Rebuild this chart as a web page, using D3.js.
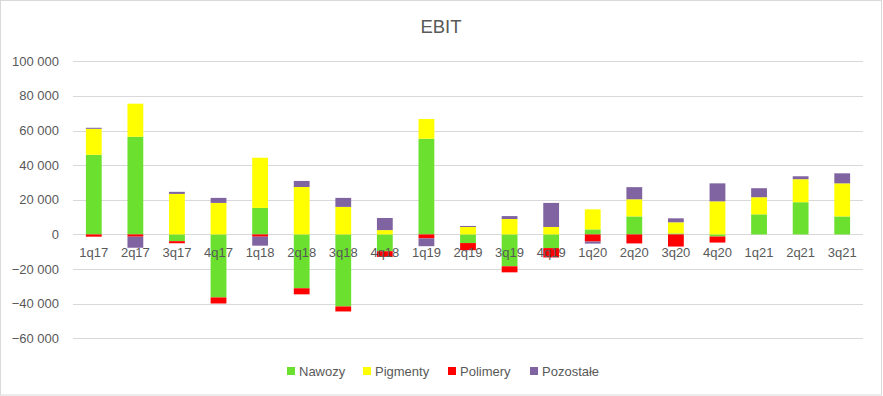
<!DOCTYPE html>
<html>
<head>
<meta charset="utf-8">
<script src="https://cdn.jsdelivr.net/npm/d3@7"></script>
<style>
  body { margin: 0; background: #fff; }
  text { font-family: "Liberation Sans", Arial, sans-serif; fill: #595959; }
</style>
</head>
<body>
<div id="chart"></div>
<script>
// quarters on the x axis
const categories = ['1q17','2q17','3q17','4q17','1q18','2q18','3q18','4q18','1q19','2q19','3q19','4q19','1q20','2q20','3q20','4q20','1q21','2q21','3q21'];
const seriesNames = ['Nawozy','Pigmenty','Polimery','Pozostałe'];
const nawozy    = [46000, 56400, -3900, -36400, 15300, -31100, -41600, -9700, 55300, -5000, -18400, -7900, 2900, 10400, 600, -1200, 11600, 18600, 10400];
const pigmenty  = [15000, 19100, 23400, 18200, 29000, 27400, 15900, 2500, 11400, 4300, 8900, 4300, 11600, 9900, 6400, 19100, 9900, 13300, 19100];
const polimery  = [-1300, -1300, -1200, -3500, -1300, -3500, -2900, -3300, -2300, -4100, -3500, -5400, -4100, -5200, -7000, -3500, 0, 0, 0];
const pozostale = [600, -6400, 1200, 2900, -5200, 3500, 5200, 7000, -4500, 600, 1700, 13900, -1200, 7000, 2300, 10400, 5200, 1700, 5800];
const yTicks = [-60000, -40000, -20000, 0, 20000, 40000, 60000, 80000, 100000];
const colors = ['#6be02f', '#ffff00', '#ff0000', '#8064a2'];

const width = 883, height = 396;

const svg = d3.select('#chart').append('svg')
  .attr('width', width)
  .attr('height', height);

// chart border
svg.append('rect')
  .attr('x', 0.5).attr('y', 0.5)
  .attr('width', width - 2).attr('height', height - 1.5)
  .attr('fill', 'none')
  .attr('stroke', '#d9d9d9');

svg.append('text')
  .attr('x', 441).attr('y', 33)
  .attr('text-anchor', 'middle')
  .style('font-size', '18.5px')
  .text('EBIT');

const x = d3.scaleBand()
  .domain(categories)
  .range([73, 863])
  .paddingInner(0.62)
  .paddingOuter(0.31);

const y = d3.scaleLinear()
  .domain([-60000, 100000])
  .range([338.3, 61.3]);

// gridlines
svg.append('g')
  .selectAll('line')
  .data(yTicks)
  .enter()
  .append('line')
  .attr('x1', 73).attr('x2', 863)
  .attr('y1', d => Math.round(y(d)) + 0.5)
  .attr('y2', d => Math.round(y(d)) + 0.5)
  .attr('stroke', '#d9d9d9')
  .attr('stroke-width', 1);

// y labels
const fmt = d => d3.format(',')(d).replace(/,/g, ' ');
svg.append('g')
  .selectAll('text')
  .data(yTicks)
  .enter()
  .append('text')
  .attr('x', 59)
  .attr('y', d => y(d))
  .attr('dy', '0.35em')
  .attr('text-anchor', 'end')
  .style('font-size', '13px')
  .text(d => fmt(d));

// stacked bars (positives up, negatives down)
const rows = categories.map((c, i) => ({
  cat: c,
  'Nawozy': nawozy[i],
  'Pigmenty': pigmenty[i],
  'Polimery': polimery[i],
  'Pozostałe': pozostale[i]
}));

const stack = d3.stack()
  .keys(seriesNames)
  .offset(d3.stackOffsetDiverging);

const layers = stack(rows);

svg.append('g')
  .selectAll('g')
  .data(layers)
  .enter()
  .append('g')
  .attr('fill', (d, i) => colors[i])
  .selectAll('rect')
  .data(d => d)
  .enter()
  .append('rect')
  .attr('x', d => x(d.data.cat))
  .attr('width', x.bandwidth())
  .attr('y', d => y(Math.max(d[0], d[1])))
  .attr('height', d => Math.abs(y(d[0]) - y(d[1])));

// category labels
svg.append('g')
  .selectAll('text')
  .data(categories)
  .enter()
  .append('text')
  .attr('x', d => x(d) + x.bandwidth() / 2)
  .attr('y', 257)
  .attr('text-anchor', 'middle')
  .style('font-size', '13px')
  .text(d => d);

// legend
const legendX = [287, 363, 448, 530];
const legend = svg.append('g')
  .selectAll('g')
  .data(seriesNames)
  .enter()
  .append('g')
  .attr('transform', (d, i) => 'translate(' + legendX[i] + ',367)');

legend.append('rect')
  .attr('width', 8).attr('height', 8)
  .attr('fill', (d, i) => colors[i]);

legend.append('text')
  .attr('x', 12).attr('y', 9)
  .style('font-size', '13px')
  .text(d => d);
</script>
</body>
</html>
